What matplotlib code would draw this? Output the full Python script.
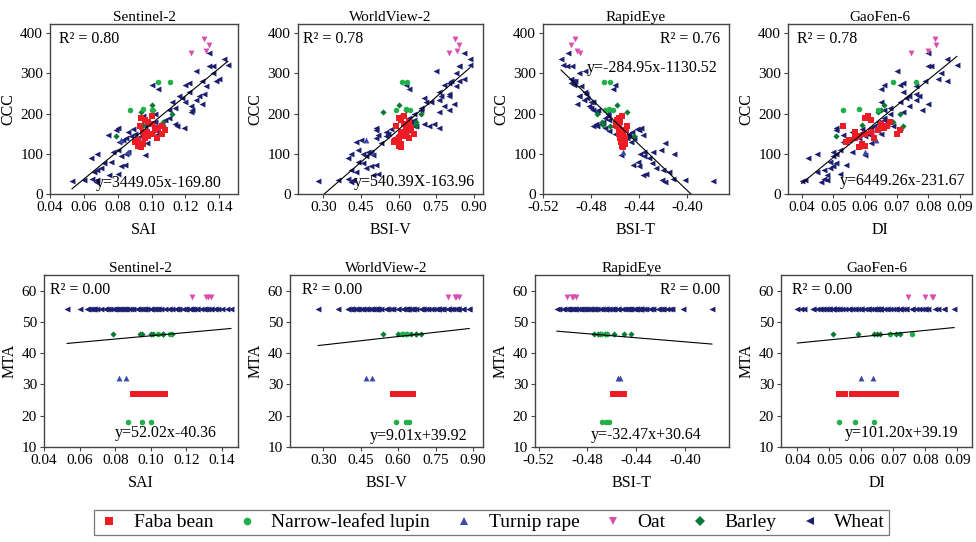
import numpy as np
import matplotlib.pyplot as plt
from matplotlib.lines import Line2D

plt.rcParams['font.family'] = ['Liberation Serif', 'DejaVu Serif']

# ---- sample values ----
# wheat: canopy chlorophyll content and the four spectral indices
wheat_ccc = [32, 35, 38, 30, 34, 55, 60, 65, 48, 50, 70, 72, 78, 80, 90, 95, 100, 100, 105, 105,
             110, 98, 130, 135, 128, 140, 145, 148, 150, 150, 155, 160, 165, 168, 140, 145, 152, 158, 162, 170,
             175, 165, 180, 185, 150, 200, 210, 190, 230, 205, 175, 170, 165, 220, 228, 235, 240, 245, 255, 210,
             262, 270, 272, 275, 268, 280, 285, 280, 300, 305, 318, 320, 318, 337, 350, 225, 245, 250, 215, 195]
wheat_sai = [0.053, 0.060, 0.065, 0.067, 0.068, 0.066, 0.068, 0.070, 0.075, 0.080, 0.082, 0.084, 0.072, 0.076, 0.064, 0.082, 0.068, 0.085, 0.077, 0.086,
             0.080, 0.096, 0.081, 0.083, 0.097, 0.085, 0.088, 0.074, 0.090, 0.098, 0.086, 0.079, 0.080, 0.106, 0.092, 0.094, 0.100, 0.103, 0.089, 0.115,
             0.114, 0.119, 0.102, 0.108, 0.104, 0.102, 0.110, 0.110, 0.112, 0.123, 0.100, 0.096, 0.093, 0.123, 0.120, 0.126, 0.118, 0.128, 0.122, 0.124,
             0.104, 0.100, 0.120, 0.122, 0.132, 0.130, 0.140, 0.138, 0.136, 0.126, 0.134, 0.145, 0.136, 0.143, 0.134, 0.130, 0.116, 0.131, 0.114, 0.095]
wheat_bsiv = [0.28, 0.36, 0.40, 0.41, 0.42, 0.43, 0.41, 0.47, 0.50, 0.52, 0.49, 0.51, 0.46, 0.44, 0.40, 0.47, 0.41, 0.46, 0.48, 0.49,
              0.44, 0.50, 0.43, 0.45, 0.53, 0.51, 0.55, 0.52, 0.56, 0.60, 0.55, 0.51, 0.51, 0.66, 0.58, 0.62, 0.62, 0.64, 0.57, 0.72,
              0.70, 0.76, 0.65, 0.66, 0.63, 0.66, 0.69, 0.64, 0.71, 0.76, 0.74, 0.67, 0.63, 0.78, 0.73, 0.76, 0.70, 0.80, 0.76, 0.80,
              0.64, 0.63, 0.78, 0.80, 0.83, 0.81, 0.86, 0.84, 0.83, 0.75, 0.84, 0.885, 0.84, 0.885, 0.86, 0.82, 0.77, 0.80, 0.69, 0.60]
wheat_bsit = [-0.378, -0.402, -0.412, -0.418, -0.421, -0.415, -0.420, -0.426, -0.437, -0.434, -0.440, -0.445, -0.429, -0.441, -0.432, -0.436, -0.411, -0.439, -0.428, -0.436,
              -0.422, -0.455, -0.447, -0.455, -0.418, -0.450, -0.452, -0.437, -0.448, -0.458, -0.446, -0.440, -0.438, -0.475, -0.444, -0.449, -0.455, -0.465, -0.442, -0.478,
              -0.476, -0.468, -0.470, -0.465, -0.460, -0.466, -0.474, -0.468, -0.480, -0.475, -0.472, -0.462, -0.458, -0.482, -0.478, -0.486, -0.483, -0.490, -0.485, -0.478,
              -0.462, -0.460, -0.494, -0.497, -0.488, -0.495, -0.497, -0.493, -0.490, -0.485, -0.500, -0.503, -0.496, -0.505, -0.499, -0.492, -0.490, -0.484, -0.480, -0.466]
wheat_di = [0.040, 0.041, 0.047, 0.046, 0.048, 0.045, 0.047, 0.049, 0.048, 0.052, 0.050, 0.054, 0.051, 0.049, 0.042, 0.050, 0.045, 0.051, 0.050, 0.056,
            0.052, 0.060, 0.053, 0.055, 0.062, 0.056, 0.057, 0.053, 0.058, 0.061, 0.056, 0.051, 0.051, 0.066, 0.058, 0.060, 0.062, 0.064, 0.059, 0.069,
            0.067, 0.071, 0.064, 0.066, 0.065, 0.068, 0.066, 0.066, 0.065, 0.072, 0.064, 0.063, 0.062, 0.074, 0.071, 0.076, 0.073, 0.077, 0.072, 0.078,
            0.065, 0.066, 0.071, 0.072, 0.076, 0.079, 0.083, 0.086, 0.084, 0.070, 0.080, 0.089, 0.081, 0.086, 0.080, 0.080, 0.074, 0.076, 0.068, 0.060]

faba_ccc = [120, 125, 118, 130, 135, 140, 145, 150, 155, 160, 165, 170, 175, 180, 185, 190, 195, 150, 160, 170, 140, 155]
faba_sai = [0.092, 0.095, 0.094, 0.090, 0.092, 0.096, 0.098, 0.100, 0.095, 0.102, 0.104, 0.106, 0.100, 0.098, 0.096, 0.094, 0.100, 0.106, 0.108, 0.093, 0.103, 0.097]
faba_bsiv = [0.60, 0.61, 0.61, 0.58, 0.59, 0.60, 0.62, 0.63, 0.61, 0.64, 0.65, 0.63, 0.62, 0.64, 0.61, 0.60, 0.62, 0.66, 0.65, 0.59, 0.64, 0.62]
faba_bsit = [-0.454, -0.452, -0.453, -0.455, -0.454, -0.456, -0.455, -0.457, -0.453, -0.456, -0.457, -0.458, -0.459, -0.456, -0.458, -0.457, -0.454, -0.455, -0.451, -0.450, -0.452, -0.453]
faba_di = [0.060, 0.059, 0.058, 0.054, 0.055, 0.057, 0.058, 0.060, 0.062, 0.064, 0.066, 0.067, 0.065, 0.068, 0.062, 0.060, 0.061, 0.070, 0.071, 0.053, 0.063, 0.057]

lupin_ccc = [208, 212, 210, 278, 278]
lupin_mta = [18, 18, 18, 46, 46]
lupin_sai = [0.087, 0.095, 0.100, 0.104, 0.111]
lupin_bsiv = [0.59, 0.63, 0.645, 0.615, 0.635]
lupin_bsit = [-0.468, -0.465, -0.462, -0.469, -0.464]
lupin_di = [0.053, 0.058, 0.064, 0.069, 0.076]

turnip_ccc = [135, 105]
turnip_sai = [0.082, 0.086]
turnip_bsiv = [0.47, 0.495]
turnip_bsit = [-0.455, -0.453]
turnip_di = [0.0635, 0.060]

oat_ccc = [350, 385, 355, 370]
oat_sai = [0.123, 0.131, 0.132, 0.134]
oat_bsiv = [0.80, 0.826, 0.833, 0.843]
oat_bsit = [-0.489, -0.493, -0.492, -0.497]
oat_di = [0.0745, 0.082, 0.080, 0.0825]

barley_ccc = [145, 172, 222, 200, 180, 168, 210, 205]
barley_sai = [0.079, 0.095, 0.100, 0.112, 0.107, 0.107, 0.101, 0.094]
barley_bsiv = [0.62, 0.67, 0.60, 0.69, 0.67, 0.65, 0.63, 0.54]
barley_bsit = [-0.444, -0.470, -0.458, -0.475, -0.471, -0.464, -0.466, -0.450]
barley_di = [0.051, 0.059, 0.066, 0.071, 0.069, 0.072, 0.065, 0.064]

# mean temperature of each crop (constant per crop, except lupin sites)
faba_mta, turnip_mta, oat_mta, barley_mta, wheat_mta = 27, 32, 58, 46, 54

sensors = ['Sentinel-2', 'WorldView-2', 'RapidEye', 'GaoFen-6']
index_names = ['SAI', 'BSI-V', 'BSI-T', 'DI']

# linear fits  y = a*x + b
ccc_slope = [3449.05, 540.39, -2849.5, 6449.26]
ccc_icpt = [-169.80, -163.96, -1130.52, -231.67]
ccc_r2 = ['0.80', '0.78', '0.76', '0.78']
ccc_eq = ['y=3449.05x-169.80', 'y=540.39X-163.96', 'y=-284.95x-1130.52', 'y=6449.26x-231.67']
mta_slope = [52.02, 9.01, -32.47, 101.20]
mta_icpt = [40.36, 39.92, 30.64, 39.19]
mta_r2 = ['0.00', '0.00', '0.00', '0.00']
mta_eq = ['y=52.02x-40.36', 'y=9.01x+39.92', 'y=-32.47x+30.64', 'y=101.20x+39.19']

# crop: (label, marker, colour, size, ccc, mta, x-values per sensor)
crops = [
    ('Wheat', '<', '#1c1f6e', 18, wheat_ccc, wheat_mta, [wheat_sai, wheat_bsiv, wheat_bsit, wheat_di]),
    ('Barley', 'D', '#0b7a36', 10, barley_ccc, barley_mta, [barley_sai, barley_bsiv, barley_bsit, barley_di]),
    ('Narrow-leafed lupin', 'o', '#1fb04a', 16, lupin_ccc, lupin_mta, [lupin_sai, lupin_bsiv, lupin_bsit, lupin_di]),
    ('Turnip rape', '^', '#3a4aa6', 18, turnip_ccc, turnip_mta, [turnip_sai, turnip_bsiv, turnip_bsit, turnip_di]),
    ('Oat', 'v', '#d84fae', 18, oat_ccc, oat_mta, [oat_sai, oat_bsiv, oat_bsit, oat_di]),
    ('Faba bean', 's', '#ee1c25', 18, faba_ccc, faba_mta, [faba_sai, faba_bsiv, faba_bsit, faba_di]),
]

W, H = 976, 542
fig = plt.figure(figsize=(W / 100, H / 100), dpi=100)


def rect(l, r, t, b):
    return [l / W, 1 - b / H, (r - l) / W, (b - t) / H]


top_lr = [(50, 238), (297.5, 483), (543, 729), (788, 972)]
bot_lr = [(44, 238), (290, 483), (535, 729), (781, 972)]
top_xlim = [(0.04, 0.151), (0.197, 0.937), (-0.52, -0.365), (0.0357, 0.0938)]
bot_xlim = [(0.04, 0.149), (0.167, 0.94), (-0.523, -0.364), (0.0349, 0.0946)]
xticks = [np.arange(0.04, 0.141, 0.02), np.arange(0.30, 0.91, 0.15),
          np.arange(-0.52, -0.39, 0.04), np.arange(0.04, 0.091, 0.01)]

top_r2_pos = [(0.05, 0.91, 'left'), (0.03, 0.91, 'left'), (0.95, 0.91, 'right'), (0.05, 0.91, 'left')]
top_eq_pos = [(0.915, 0.065, 'right'), (0.957, 0.07, 'right'), (0.94, 0.74, 'right'), (0.962, 0.075, 'right')]
bot_r2_pos = [(0.03, 0.91, 'left'), (0.06, 0.91, 'left'), (0.955, 0.91, 'right'), (0.06, 0.91, 'left')]
bot_eq_pos = [(0.89, 0.08, 'right'), (0.92, 0.065, 'right'), (0.86, 0.068, 'right'), (0.93, 0.08, 'right')]


def style(ax):
    for s in ax.spines.values():
        s.set_color('#444444')
        s.set_linewidth(1.0)
    ax.tick_params(direction='out', length=3, width=0.8, labelsize=11, color='#444444', pad=2)


for i in range(4):
    # top row: CCC
    ax = fig.add_axes(rect(top_lr[i][0], top_lr[i][1], 24, 194))
    allx = []
    for name, mk, col, sz, ccc, mta, xs in crops:
        ax.scatter(xs[i], ccc, marker=mk, s=sz, color=col, linewidths=0, zorder=3)
        allx += list(xs[i])
    xl = np.array([min(allx), max(allx)])
    ax.plot(xl, ccc_slope[i] * xl + ccc_icpt[i], color='black', lw=0.8, zorder=4)
    ax.set_xlim(top_xlim[i])
    ax.set_ylim(0, 423)
    ax.set_xticks(xticks[i])
    ax.set_xticklabels(['%.2f' % v for v in xticks[i]])
    ax.set_yticks([0, 100, 200, 300, 400])
    ax.set_title(sensors[i], fontsize=11, pad=2)
    ax.set_xlabel(index_names[i], fontsize=11.5, labelpad=6)
    ax.set_ylabel('CCC', fontsize=11.5, labelpad=3)
    px, py, ha = top_r2_pos[i]
    ax.text(px, py, 'R² = ' + ccc_r2[i], transform=ax.transAxes, ha=ha, va='center', fontsize=11.5)
    px, py, ha = top_eq_pos[i]
    ax.text(px, py, ccc_eq[i], transform=ax.transAxes, ha=ha, va='center', fontsize=11.5)
    style(ax)

    # bottom row: MTA
    ax = fig.add_axes(rect(bot_lr[i][0], bot_lr[i][1], 275, 447))
    for name, mk, col, sz, ccc, mta, xs in crops:
        yy = np.broadcast_to(np.asarray(mta, dtype=float), (len(xs[i]),))
        ax.scatter(xs[i], yy, marker=mk, s=sz, color=col, linewidths=0, zorder=3)
    ax.plot(xl, mta_slope[i] * xl + mta_icpt[i], color='black', lw=0.8, zorder=4)
    ax.set_xlim(bot_xlim[i])
    ax.set_ylim(10, 65)
    ax.set_xticks(xticks[i])
    ax.set_xticklabels(['%.2f' % v for v in xticks[i]])
    ax.set_yticks([10, 20, 30, 40, 50, 60])
    ax.set_title(sensors[i], fontsize=11, pad=2)
    ax.set_xlabel(index_names[i], fontsize=11.5, labelpad=6)
    ax.set_ylabel('MTA', fontsize=11.5, labelpad=3)
    px, py, ha = bot_r2_pos[i]
    ax.text(px, py, 'R² = ' + mta_r2[i], transform=ax.transAxes, ha=ha, va='center', fontsize=11.5)
    px, py, ha = bot_eq_pos[i]
    ax.text(px, py, mta_eq[i], transform=ax.transAxes, ha=ha, va='center', fontsize=11.5)
    style(ax)

# legend in the order of the original figure
order = ['Faba bean', 'Narrow-leafed lupin', 'Turnip rape', 'Oat', 'Barley', 'Wheat']
lookup = {c[0]: c for c in crops}
handles = []
for name in order:
    _, mk, col, sz, _, _, _ = lookup[name]
    handles.append(Line2D([], [], marker=mk, color=col, linestyle='none', markersize=5.5, markeredgewidth=0))
leg = fig.legend(handles, order, loc='center', bbox_to_anchor=(491.5 / W, 1 - 522.5 / H), ncol=6,
                 fontsize=14, frameon=True, fancybox=False, handletextpad=0.65, columnspacing=1.15,
                 borderpad=0.2, handlelength=1.2)
leg.get_frame().set_edgecolor('#555555')
leg.get_frame().set_linewidth(0.9)

fig.savefig('out.png', dpi=100)
